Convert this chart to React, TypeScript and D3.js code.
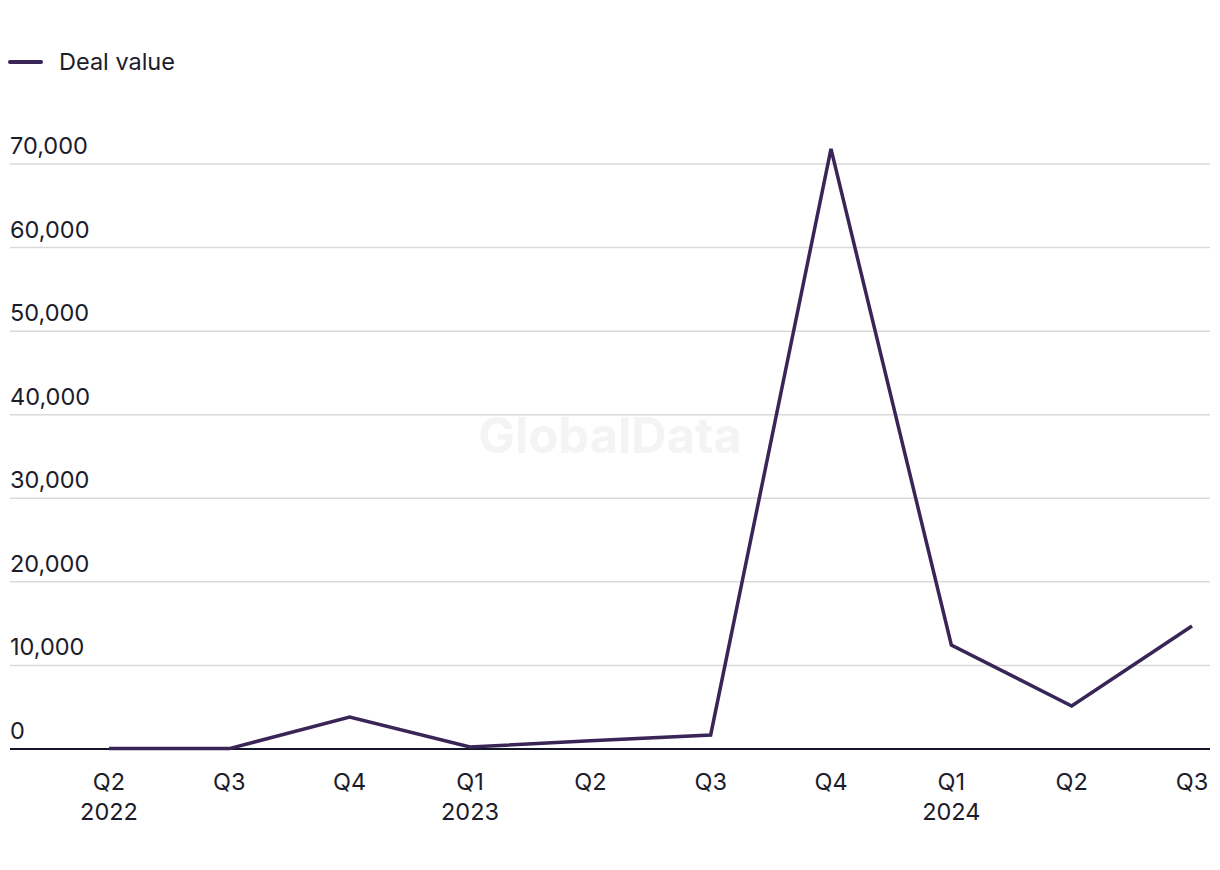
import React from "react";
import * as d3 from "d3";

const quarters = ["Q2", "Q3", "Q4", "Q1", "Q2", "Q3", "Q4", "Q1", "Q2", "Q3"];
const years = ["2022", "", "", "2023", "", "", "", "2024", "", ""];
const dealValues = [50, 50, 3830, 240, 1000, 1680, 71800, 12440, 5150, 14720];
const yTicks = [0, 10000, 20000, 30000, 40000, 50000, 60000, 70000];
const seriesName = "Deal value";

const W = 1220;
const H = 870;
const FONT = "Inter, 'Open Sans', sans-serif";
const LINE = "#3a2557";
const TEXT = "#1c1c2b";

export default function App() {
  const x = d3.scalePoint<number>().domain(d3.range(quarters.length)).range([109, 1192]);
  const y = d3.scaleLinear().domain([0, 70000]).range([749, 164]);
  const line = d3
    .line<number>()
    .x((_, i) => x(i)!)
    .y((d) => y(d));
  const fmt = d3.format(",");

  return (
    <svg width={W} height={H} style={{ position: "absolute", left: 0, top: 0, background: "#fff" }}>
      <text x={610} y={453} textAnchor="middle" fontFamily={FONT} fontWeight={700} fontSize={49} fill="#f4f4f4">
        GlobalData
      </text>
      {yTicks.map((t) => (
        <g key={t}>
          {t !== 0 && <line x1={10} x2={1210} y1={y(t)} y2={y(t)} stroke="#d9d9d9" strokeWidth={1.5} />}
          <text x={10} y={y(t) - 10} fontFamily={FONT} fontSize={23.5} fill={TEXT}>
            {fmt(t)}
          </text>
        </g>
      ))}
      <line x1={10} x2={1210} y1={y(0)} y2={y(0)} stroke="#15152a" strokeWidth={2} />
      <path d={line(dealValues) || ""} fill="none" stroke={LINE} strokeWidth={3.5} strokeLinejoin="miter" />
      {quarters.map((q, i) => (
        <g key={i}>
          <text x={x(i)} y={790} textAnchor="middle" fontFamily={FONT} fontSize={23.5} fill={TEXT}>
            {q}
          </text>
          {years[i] && (
            <text x={x(i)} y={820} textAnchor="middle" fontFamily={FONT} fontSize={23.5} fill={TEXT}>
              {years[i]}
            </text>
          )}
        </g>
      ))}
      <line x1={10} x2={41} y1={62} y2={62} stroke={LINE} strokeWidth={4} strokeLinecap="round" />
      <text x={59} y={70} fontFamily={FONT} fontSize={23.5} fill={TEXT}>
        {seriesName}
      </text>
    </svg>
  );
}
